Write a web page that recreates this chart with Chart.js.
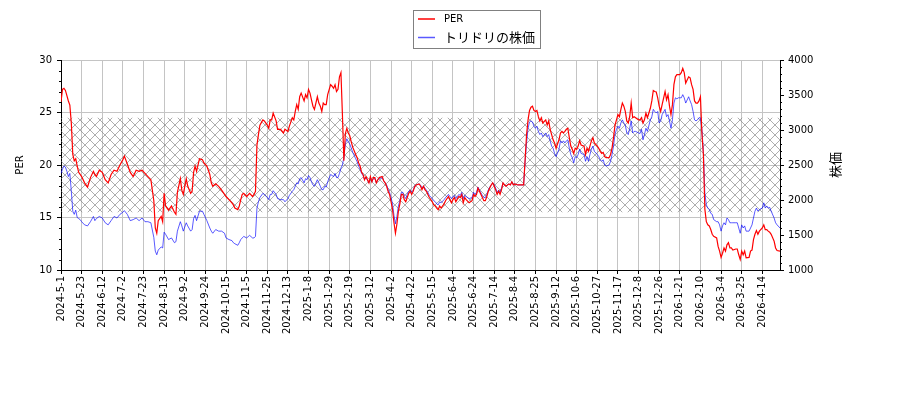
<!DOCTYPE html>
<html><head><meta charset="utf-8">
<script src="https://cdn.jsdelivr.net/npm/chart.js@4.4.1/dist/chart.umd.min.js"></script>
<style>html,body{margin:0;padding:0;background:#fff;} #wrap{width:900px;height:400px;position:relative;}</style>
</head><body>
<div id="wrap"><canvas id="c" width="900" height="400"></canvas></div>
<script>
// ---------- data ----------
const tickLabels = ['2024-5-1','2024-5-23','2024-6-12','2024-7-2','2024-7-23','2024-8-13','2024-9-2','2024-9-24','2024-10-15','2024-11-5','2024-11-25','2024-12-13','2025-1-8','2025-1-29','2025-2-19','2025-3-12','2025-4-2','2025-4-22','2025-5-15','2025-6-4','2025-6-24','2025-7-14','2025-8-4','2025-8-25','2025-9-12','2025-10-6','2025-10-27','2025-11-17','2025-12-8','2025-12-26','2026-1-21','2026-2-10','2026-3-4','2026-3-25','2026-4-14'];
const tickEvery = 14;      // trading days between date labels
const lastDay = 488;       // index of the last trading day

const dayIndex = [
0,1,2,3,4,5,6,7,8,9,10,11,12,13,14,16,18,20,22,23,24,26,28,30,32,34,36,38,40,42,43,45,47,49,51,53,55,57,59,61,63,64,65,66,68,69,70,71,73,75,77,78,79,81,82,83,85,86,88,89,90,91,92,94,96,97,99,
101,102,103,105,107,109,111,112,114,116,117,118,120,121,122,123,124,126,128,130,131,132,133,134,135,137,138,140,141,142,143,144,146,147,149,151,152,154,155,157,158,159,160,161,162,163,165,166,167,168,169,170,171,172,174,175,176,177,178,179,180,181,183,184,185,186,187,188,189,190,191,192,193,194,
195,196,197,198,200,201,202,203,204,205,206,207,209,210,211,212,213,214,215,216,218,219,220,221,222,223,224,225,226,227,228,229,230,231,232,233,234,235,236,237,238,239,240,241,243,244,245,246,247,248,249,250,252,253,254,255,256,257,258,260,261,263,264,265,266,267,268,270,271,272,273,274,275,277,279,280,281,282,283,284,286,287,288,289,290,291,292,293,294,
295,296,297,298,299,300,301,302,304,305,306,307,308,310,312,314,315,316,317,318,319,320,321,322,323,324,325,326,327,329,330,331,332,333,334,335,336,338,339,340,341,342,343,344,345,346,347,348,349,350,351,352,353,355,356,357,358,359,360,361,362,364,365,366,367,368,369,370,372,373,374,375,376,377,378,379,380,381,382,383,384,385,386,387,388,389,390,392,393,
394,395,396,397,398,400,401,402,403,404,405,406,407,408,410,411,412,413,414,415,416,417,418,419,420,421,422,423,424,426,427,428,429,430,431,432,433,434,435,436,437,438,439,440,441,442,443,445,446,447,448,449,450,451,452,453,454,455,456,458,459,460,461,462,463,464,465,467,468,469,470,471,472,473,474,476,477,478,479,480,481,482,484,485,486,488
];

const perValues = [
26.0,27.2,27.3,27.1,26.6,26.1,25.7,24.0,21.0,20.4,20.6,19.9,19.3,19.1,18.9,18.3,17.9,18.8,19.4,19.1,18.9,19.5,19.3,18.6,18.3,19.1,19.5,19.4,20.0,20.5,20.85,20.1,19.3,18.9,19.5,19.4,19.5,19.2,18.9,18.6,16.6,14.0,13.5,14.7,15.1,14.6,17.3,16.1,15.7,16.1,15.5,15.3,17.4,18.7,17.6,17.2,18.7,18.0,17.3,17.5,19.3,19.9,19.4,20.6,20.5,20.2,19.9,
19.1,18.3,17.97,18.2,17.97,17.6,17.2,17.0,16.7,16.4,16.2,15.9,15.75,16.1,16.7,17.2,17.3,17.0,17.3,17.0,17.2,17.5,21.9,22.9,23.8,24.3,24.2,23.8,23.5,24.3,24.3,24.95,24.2,23.4,23.4,23.05,23.4,23.2,23.7,24.5,24.3,25.1,25.75,25.3,26.5,26.85,26.1,26.7,26.4,27.2,26.85,26.2,25.6,25.3,26.5,25.9,25.6,25.1,25.9,25.75,25.75,26.7,27.65,27.5,27.3,27.65,27.0,27.2,28.4,28.8,24.8,20.4,23.0,23.5,
23.05,22.8,22.2,21.7,21.0,20.7,20.2,19.9,19.3,19.1,18.6,18.9,18.3,18.9,18.4,18.8,18.8,18.3,18.6,18.8,18.9,18.5,18.3,17.97,17.5,17.2,16.5,15.8,14.5,13.5,14.4,15.6,16.3,17.2,17.2,16.7,16.5,16.9,17.3,17.5,17.2,17.5,17.9,18.1,18.2,18.0,17.65,17.97,17.65,17.5,17.2,16.9,16.5,16.2,16.1,15.9,15.75,16.1,15.9,16.3,16.6,17.0,16.7,16.4,16.7,16.9,16.5,17.0,16.9,17.2,16.4,16.9,16.7,16.4,16.6,17.2,17.0,17.2,17.8,17.5,16.9,16.6,16.6,17.0,17.5,17.8,18.1,18.3,18.0,
17.65,17.2,17.5,17.2,17.65,18.3,18.1,17.97,18.2,18.1,18.4,18.1,18.2,18.1,18.1,18.1,20.5,22.9,24.3,25.2,25.5,25.6,25.2,25.1,25.2,24.6,24.2,24.5,24.0,24.3,23.8,24.2,23.4,22.9,22.4,22.1,21.6,22.4,23.05,23.2,23.05,23.2,23.4,23.5,22.6,21.8,21.5,21.1,21.6,21.5,21.8,22.3,21.9,21.8,21.0,21.6,21.3,21.8,22.3,22.6,22.1,21.8,21.6,21.3,21.1,21.2,20.8,20.7,20.7,21.0,21.6,22.6,23.8,24.3,24.8,24.6,25.3,25.9,25.6,25.1,24.2,24.0,24.6,25.9,24.5,24.6,24.5,24.3,24.3,
24.5,24.0,24.3,24.95,24.5,25.4,26.1,27.1,27.0,26.95,26.4,25.6,25.1,25.75,27.0,26.2,26.7,25.6,24.8,25.75,27.65,28.4,28.6,28.6,28.6,28.8,29.2,28.8,27.8,28.4,28.3,27.65,27.2,26.1,25.9,25.9,26.1,26.5,23.0,21.0,15.8,14.6,14.3,14.2,13.85,13.4,13.2,13.05,12.25,11.8,11.2,11.6,12.1,11.8,12.4,12.6,12.1,12.1,11.9,12.0,12.0,11.45,11.0,11.8,11.45,11.8,11.15,11.2,11.8,11.9,12.9,13.4,13.75,13.4,13.7,14.0,14.3,13.85,13.85,13.7,13.6,13.4,12.75,12.1,11.85,11.8
];

const priceValues = [
2380,2440,2485,2470,2410,2335,2380,2125,1840,1795,1855,1750,1735,1720,1690,1645,1630,1690,1765,1705,1735,1765,1743,1675,1645,1705,1765,1743,1795,1825,1848,1795,1705,1720,1743,1705,1743,1690,1690,1675,1465,1270,1218,1285,1330,1315,1540,1510,1435,1458,1390,1405,1555,1690,1630,1555,1675,1630,1555,1578,1735,1780,1705,1840,1840,1795,1705,
1600,1555,1525,1578,1555,1555,1525,1458,1435,1420,1390,1375,1353,1390,1435,1458,1480,1458,1495,1458,1458,1480,1885,1975,2035,2095,2080,2035,2005,2080,2080,2133,2080,2020,2005,2005,1975,2020,2065,2125,2148,2196,2245,2230,2305,2320,2245,2305,2290,2350,2320,2260,2215,2196,2290,2245,2196,2148,2148,2196,2185,2260,2365,2350,2335,2380,2320,2320,2380,2455,2500,2605,2800,2875,
2830,2800,2740,2680,2590,2545,2485,2440,2380,2350,2290,2320,2245,2320,2260,2305,2305,2245,2290,2305,2320,2275,2245,2215,2155,2110,2035,1945,1780,1660,1765,1915,1990,2110,2110,2050,2020,2080,2125,2140,2110,2140,2200,2215,2230,2215,2170,2200,2170,2140,2110,2065,2020,1990,1975,1945,1930,1975,1960,2005,2035,2080,2050,2020,2050,2065,2020,2080,2065,2110,2020,2065,2050,2020,2035,2110,2080,2110,2185,2140,2065,2035,2035,2080,2140,2185,2215,2245,2215,
2170,2110,2140,2110,2170,2245,2215,2200,2230,2215,2260,2215,2230,2215,2215,2215,2545,2815,3025,3115,3130,3115,3055,3025,3055,2980,2935,2958,2905,2958,2905,2935,2845,2770,2740,2665,2620,2725,2845,2815,2845,2815,2845,2860,2740,2650,2605,2530,2620,2605,2650,2725,2665,2650,2553,2620,2553,2650,2725,2770,2695,2650,2620,2575,2553,2575,2500,2485,2500,2553,2650,2770,2935,3010,3055,3025,3100,3145,3100,3070,2958,2935,3025,3130,2958,2980,2980,2958,2950,
3010,2860,2935,3025,2980,3145,3190,3295,3265,3243,3265,3100,3130,3220,3295,3190,3220,3130,3025,3145,3385,3460,3445,3460,3460,3460,3505,3460,3385,3475,3415,3363,3265,3145,3130,3145,3175,3175,3010,2695,2095,1930,1885,1863,1810,1795,1720,1690,1690,1645,1555,1630,1675,1645,1743,1720,1675,1675,1675,1675,1675,1600,1525,1645,1600,1630,1555,1555,1600,1645,1743,1840,1885,1840,1863,1885,1960,1885,1915,1885,1895,1840,1743,1675,1645,1600
];

const seriesNames = ['PER', 'トリドリの株価'];
const perAxisTitle = 'PER';
const priceAxisTitle = '株価';
const perBand = [15.5, 24.5];       // hatched PER range
const perRange = [10, 30], perMajor = 5, perMinor = 1;
const priceRange = [1000, 4000], priceMajor = 500, priceMinor = 100;

// ---------- styling ----------
const LATIN = '"DejaVu Sans", "Noto Sans CJK JP", sans-serif';
const CJK = '"Noto Sans CJK JP", "DejaVu Sans", sans-serif';
Chart.defaults.font.family = LATIN;
Chart.defaults.font.size = 10;
Chart.defaults.color = '#000';

const GRID = '#c4c4c4';
const isCJK = s => /[^\x00-\x7F]/.test(s);

function makeHatch(ctx) {
  const s = 10;
  const c = document.createElement('canvas');
  c.width = s; c.height = s;
  const g = c.getContext('2d');
  g.strokeStyle = 'rgba(120,120,120,0.6)';
  g.lineWidth = 1;
  g.beginPath();
  g.moveTo(-1, -1); g.lineTo(s + 1, s + 1);
  g.moveTo(s + 1, -1); g.lineTo(-1, s + 1);
  g.stroke();
  return ctx.createPattern(c, 'repeat');
}

const decor = {
  id: 'decor',
  beforeDatasetsDraw(chart) {
    const {ctx, chartArea: a, scales: {y}} = chart;
    if (!this.hatch) this.hatch = makeHatch(ctx);
    const top = y.getPixelForValue(perBand[1]);
    const bot = y.getPixelForValue(perBand[0]);
    ctx.save();
    ctx.beginPath();
    ctx.rect(a.left, a.top, a.right - a.left, a.bottom - a.top);
    ctx.clip();
    ctx.fillStyle = this.hatch;
    ctx.fillRect(a.left, top, a.right - a.left, bot - top);
    ctx.restore();
  },
  afterDraw(chart) {
    const {ctx, chartArea: a, scales: {y, y1}} = chart;
    ctx.save();
    // minor ticks
    ctx.strokeStyle = '#000';
    ctx.lineWidth = 1;
    ctx.beginPath();
    for (let v = perRange[0]; v <= perRange[1]; v += perMinor) {
      if (v % perMajor === 0) continue;
      const py = Math.round(y.getPixelForValue(v)) + 0.5;
      ctx.moveTo(a.left - 2, py); ctx.lineTo(a.left, py);
    }
    for (let v = priceRange[0]; v <= priceRange[1]; v += priceMinor) {
      if (v % priceMajor === 0) continue;
      const py = Math.round(y1.getPixelForValue(v)) + 0.5;
      ctx.moveTo(a.right, py); ctx.lineTo(a.right + 2, py);
    }
    ctx.stroke();

    // axis titles
    const midY = (a.top + a.bottom) / 2;
    ctx.fillStyle = '#000';
    ctx.textAlign = 'center';
    ctx.textBaseline = 'middle';
    ctx.save();
    ctx.translate(20, midY); ctx.rotate(-Math.PI / 2);
    ctx.font = isCJK(perAxisTitle) ? '13px ' + CJK : '10px ' + LATIN;
    ctx.fillText(perAxisTitle, 0, 0);
    ctx.restore();
    ctx.save();
    ctx.translate(a.right + 55, midY); ctx.rotate(-Math.PI / 2);
    ctx.font = isCJK(priceAxisTitle) ? '13px ' + CJK : '10px ' + LATIN;
    ctx.fillText(priceAxisTitle, 0, 0);
    ctx.restore();

    // legend
    const bx = 413.5, by = 10.5, bw = 127, bh = 38;
    ctx.fillStyle = 'rgba(255,255,255,0.9)';
    ctx.fillRect(bx, by, bw, bh);
    ctx.strokeStyle = '#808080';
    ctx.lineWidth = 1;
    ctx.strokeRect(bx, by, bw, bh);
    chart.data.datasets.forEach((ds, i) => {
      const ly = 19 + i * 18.5;
      ctx.strokeStyle = ds.borderColor;
      ctx.lineWidth = 1.5;
      ctx.beginPath(); ctx.moveTo(418, ly); ctx.lineTo(435, ly); ctx.stroke();
      ctx.fillStyle = '#000';
      ctx.textAlign = 'left';
      ctx.textBaseline = 'middle';
      ctx.font = isCJK(ds.label) ? '13px ' + CJK : '10px ' + LATIN;
      ctx.fillText(ds.label, 444, ly);
    });
    ctx.restore();
  }
};

const perPoints = dayIndex.map((d, i) => ({x: d, y: perValues[i]}));
const pricePoints = dayIndex.map((d, i) => ({x: d, y: priceValues[i]}));

new Chart(document.getElementById('c'), {
  type: 'line',
  data: {
    datasets: [
      {label: seriesNames[0], data: perPoints, yAxisID: 'y', borderColor: '#ff0000', borderWidth: 1.2, pointRadius: 0, tension: 0},
      {label: seriesNames[1], data: pricePoints, yAxisID: 'y1', borderColor: 'rgba(0,0,255,0.65)', borderWidth: 1, pointRadius: 0, tension: 0}
    ]
  },
  options: {
    responsive: false,
    animation: false,
    events: [],
    layout: {padding: {top: 60, left: 0, right: 0, bottom: 0}},
    plugins: {legend: {display: false}, tooltip: {enabled: false}},
    scales: {
      x: {
        type: 'linear', min: 0, max: lastDay,
        afterBuildTicks: s => { s.ticks = tickLabels.map((_, i) => ({value: i * tickEvery})); },
        afterFit: s => { s.height = 130; },
        ticks: {autoSkip: false, minRotation: 90, maxRotation: 90, padding: 2,
                callback: (v, i) => tickLabels[i]},
        grid: {color: GRID, lineWidth: 1, tickColor: '#000', tickLength: 4},
        border: {color: '#000', width: 1}
      },
      y: {
        type: 'linear', position: 'left', min: perRange[0], max: perRange[1],
        afterFit: s => { s.width = 61; },
        ticks: {stepSize: perMajor, padding: 5, callback: v => String(v)},
        grid: {color: GRID, lineWidth: 1, tickColor: '#000', tickLength: 4},
        border: {color: '#000', width: 1}
      },
      y1: {
        type: 'linear', position: 'right', min: priceRange[0], max: priceRange[1],
        afterFit: s => { s.width = 120; },
        ticks: {stepSize: priceMajor, padding: 4, callback: v => String(v)},
        grid: {drawOnChartArea: false, tickColor: '#000', tickLength: 4},
        border: {color: '#000', width: 1}
      }
    }
  },
  plugins: [decor]
});
</script>
</body></html>
